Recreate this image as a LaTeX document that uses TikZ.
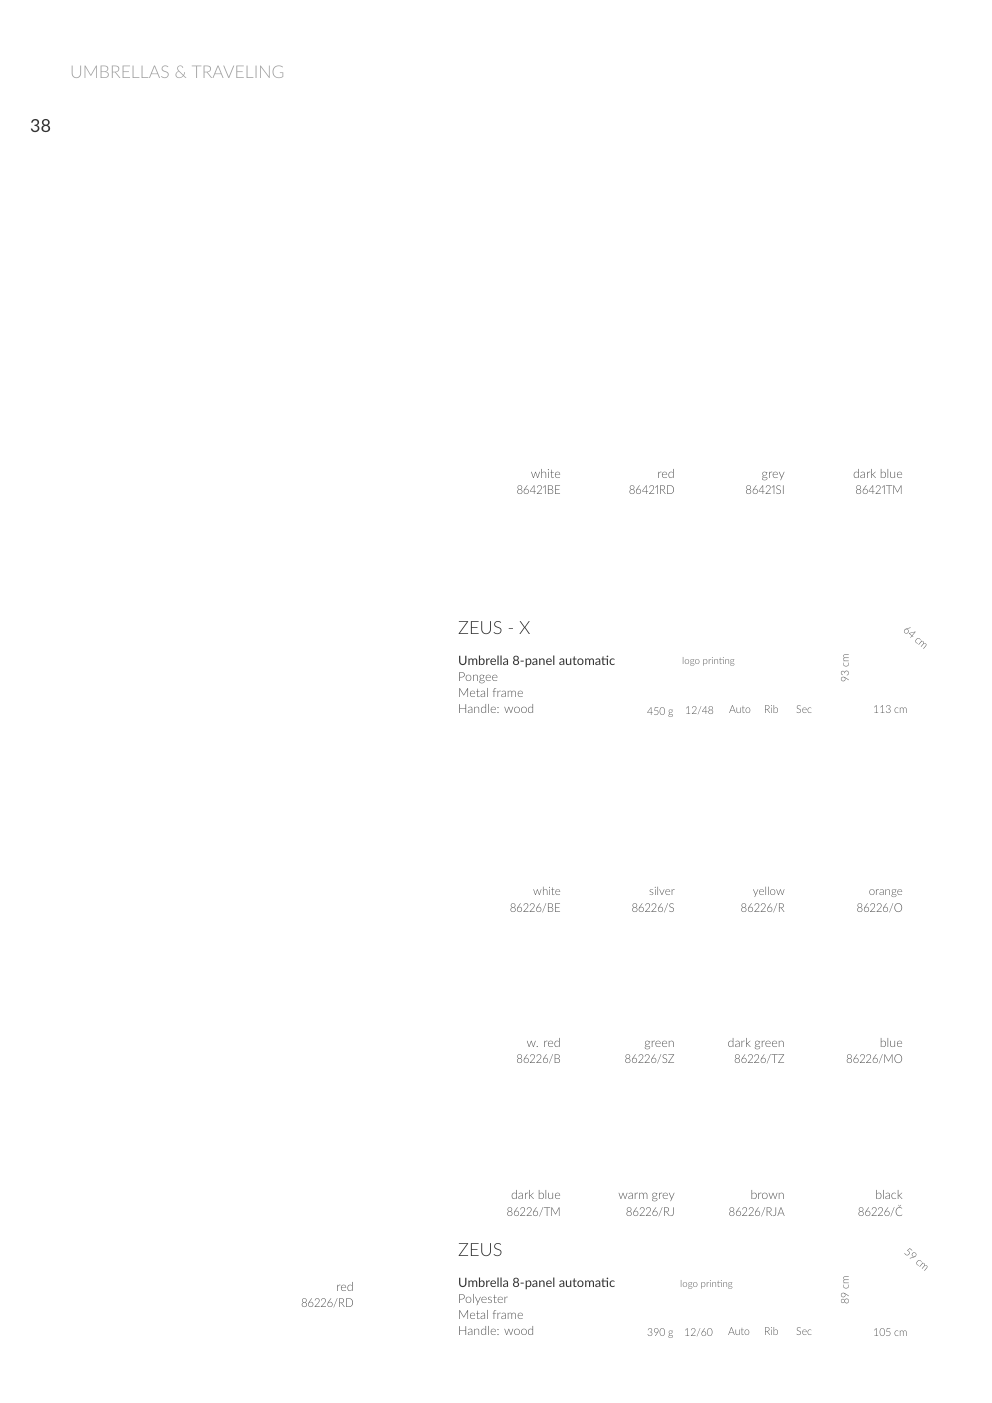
\documentclass[tikz,border=0pt]{standalone}
\usepackage{fontspec}
\IfFontExistsTF{Lato Light}{\setmainfont{Lato Light}[BoldFont=Lato,Numbers=Proportional]\newfontfamily\regf{Lato}[Numbers=Proportional]}{\setmainfont{Lato}[Numbers=Proportional]\newfontfamily\regf{Lato}}
\newcommand{\cond}{\addfontfeature{FakeStretch=0.93}}
\newcommand{\tabcond}{\addfontfeature{Numbers=Monospaced,FakeStretch=0.95}}
\definecolor{hdrgrey}{HTML}{A0A0A0}
\definecolor{lblgrey}{HTML}{4E4E4E}
\definecolor{titlegrey}{HTML}{353535}
\tikzset{
  lbl/.style={inner sep=0pt, text=lblgrey, font=\fontsize{12.5}{14}\selectfont, anchor=base east},
  code/.style={inner sep=0pt, text=lblgrey, font=\fontsize{12.3}{14}\selectfont\cond, anchor=base east},
  lblsm/.style={inner sep=0pt, text=lblgrey, font=\fontsize{11.5}{13}\selectfont, anchor=base east},
  spec/.style={inner sep=0pt, text=lblgrey, font=\fontsize{12.5}{14}\selectfont, anchor=base west},
  specb/.style={inner sep=0pt, text=titlegrey, font=\regf\fontsize{12.9}{14}\selectfont, anchor=base west},
  tiny/.style={inner sep=0pt, text=lblgrey, font=\fontsize{9.7}{12}\selectfont, anchor=base west},
  small/.style={inner sep=0pt, text=lblgrey, font=\fontsize{11}{13}\selectfont\tabcond, anchor=base west},
  rot/.style={inner sep=0pt, text=lblgrey, font=\fontsize{11}{13}\selectfont\tabcond},
  ttl/.style={inner sep=0pt, text=titlegrey, font=\fontsize{18.2}{22}\selectfont, anchor=base west},
}
\begin{document}
\begin{tikzpicture}[x=1pt,y=-1pt]
\fill[white] (0,0) rectangle (992,1403);
\useasboundingbox (0,0) rectangle (992,1403);
% header
\node[inner sep=0pt, anchor=base west, text=hdrgrey, font=\fontsize{17.6}{22}\selectfont] (hdr) at (70,78) {UMBRELLAS \& TRAVELING};
\node[inner sep=0pt, anchor=base west, text=titlegrey, font=\regf\fontsize{18}{22}\selectfont] (pg) at (30,132) {38};
% row 86421
\node[lbl] (c1a) at (561,478) {white};   \node[code] (c1b) at (561,494) {86421BE};
\node[lbl] (c2a) at (675,478) {red};     \node[code] (c2b) at (675,494) {86421RD};
\node[lbl] (c3a) at (785,478) {grey};    \node[code] (c3b) at (785,494) {86421SI};
\node[lbl] (c4a) at (903,478) {dark blue}; \node[code] (c4b) at (903,494) {86421TM};
% ZEUS - X
\node[ttl] (zx) at (458,634) {ZEUS - X};
\node[specb] (zx1) at (458,665) {Umbrella 8-panel automatic};
\node[spec] (zx2) at (458,681) {Pongee};
\node[spec] (zx3) at (458,697) {Metal frame};
\node[spec] (zx4) at (458,713) {Handle: wood};
\node[tiny] (zxlogo) at (682,664) {logo printing};
\node[small] (zxw) at (647,715) {450 g};
\node[small] (zxp) at (685,714) {12/48};
\node[small] (zxa) at (729,713) {Auto};
\node[small] (zxr) at (764,713) {Rib};
\node[small] (zxs) at (796,713) {Sec};
\node[small] (zxl) at (873,713) {113 cm};
\node[rot, rotate=90] (zxh) at (845,668) {93 cm};
\node[rot, rotate=-40] (zxd) at (916,638) {64 cm};
% rows 86226
\node[lblsm] (r1a) at (561,895) {white};  \node[code] (r1b) at (561,912) {86226/BE};
\node[lblsm] (r2a) at (675,895) {silver}; \node[code] (r2b) at (675,912) {86226/S};
\node[lblsm] (r3a) at (785,895) {yellow}; \node[code] (r3b) at (785,912) {86226/R};
\node[lblsm] (r4a) at (903,895) {orange}; \node[code] (r4b) at (903,912) {86226/O};
\node[lbl] (s1a) at (561,1047) {w. red};     \node[code] (s1b) at (561,1063) {86226/B};
\node[lbl] (s2a) at (675,1047) {green};      \node[code] (s2b) at (675,1063) {86226/SZ};
\node[lbl] (s3a) at (785,1047) {dark green}; \node[code] (s3b) at (785,1063) {86226/TZ};
\node[lbl] (s4a) at (903,1047) {blue};       \node[code] (s4b) at (903,1063) {86226/MO};
\node[lbl] (t1a) at (561,1199) {dark blue};  \node[code] (t1b) at (561,1216) {86226/TM};
\node[lbl] (t2a) at (675,1199) {warm grey};  \node[code] (t2b) at (675,1216) {86226/RJ};
\node[lbl] (t3a) at (785,1199) {brown};      \node[code] (t3b) at (785,1216) {86226/RJA};
\node[lbl] (t4a) at (903,1199) {black};      \node[code] (t4b) at (903,1216) {86226/Č};
\node[lbl] (u1a) at (354,1291) {red};        \node[code] (u1b) at (354,1307) {86226/RD};
% ZEUS
\node[ttl] (z) at (458,1256) {ZEUS};
\node[specb] (z1) at (458,1287) {Umbrella 8-panel automatic};
\node[spec] (z2) at (458,1303) {Polyester};
\node[spec] (z3) at (458,1319) {Metal frame};
\node[spec] (z4) at (458,1335) {Handle: wood};
\node[tiny] (zlogo) at (680,1287) {logo printing};
\node[small] (zw) at (647,1336) {390 g};
\node[small] (zp) at (684,1336) {12/60};
\node[small] (za) at (728,1335) {Auto};
\node[small] (zr) at (764,1335) {Rib};
\node[small] (zs) at (796,1335) {Sec};
\node[small] (zl) at (873,1336) {105 cm};
\node[rot, rotate=90] (zh) at (845,1290) {89 cm};
\node[rot, rotate=-40] (zd) at (917,1260) {59 cm};
\end{tikzpicture}
\end{document}
